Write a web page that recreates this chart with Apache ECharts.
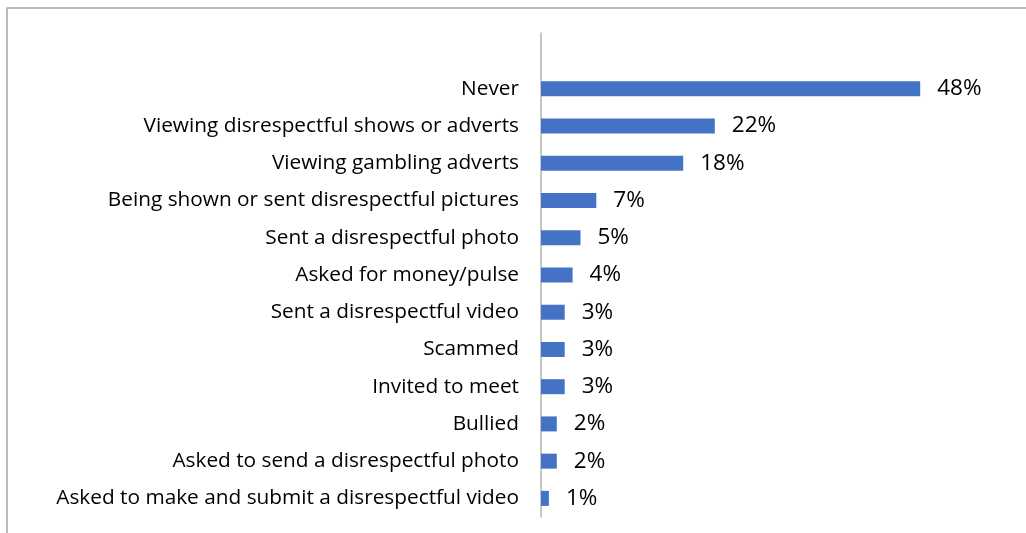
<!DOCTYPE html>
<html>
<head>
<meta charset="utf-8">
<script src="https://cdn.jsdelivr.net/npm/echarts@6/dist/echarts.min.js"></script>
<style>
  html, body { margin: 0; padding: 0; background: #fff; }
  #chart { width: 1026px; height: 533px; }
</style>
</head>
<body>
<div id="chart"></div>
<script>
// Online experiences reported (top to bottom as shown)
const categories = [
  'Never',
  'Viewing disrespectful shows or adverts',
  'Viewing gambling adverts',
  'Being shown or sent disrespectful pictures',
  'Sent a disrespectful photo',
  'Asked for money/pulse',
  'Sent a disrespectful video',
  'Scammed',
  'Invited to meet',
  'Bullied',
  'Asked to send a disrespectful photo',
  'Asked to make and submit a disrespectful video'
];
const percentages = [48, 22, 18, 7, 5, 4, 3, 3, 3, 2, 2, 1];

// Category axis runs bottom-up, so reverse for display
const axisCats = categories.slice().reverse();
const axisVals = percentages.slice().reverse();

const chart = echarts.init(document.getElementById('chart'), null, { renderer: 'canvas' });

const labelFont = 'Open Sans, Noto Sans, DejaVu Sans, sans-serif';

chart.setOption({
  animation: false,
  backgroundColor: '#ffffff',
  grid: { left: 541, right: 11, top: 33, bottom: 16, containLabel: false },
  graphic: [{
    type: 'rect',
    shape: { x: 7, y: 8, width: 1030, height: 540 },
    style: { fill: 'none', stroke: '#a6a6a6', lineWidth: 1.5 },
    silent: true
  }],
  xAxis: {
    type: 'value',
    min: 0,
    max: 60,
    show: false
  },
  yAxis: {
    type: 'category',
    data: axisCats,
    // one empty band kept above the first row
    max: 12,
    axisLine: { show: true, lineStyle: { color: '#b3b3b3', width: 1.5 } },
    axisTick: { show: false },
    axisLabel: {
      color: '#000',
      fontSize: 20.8,
      fontFamily: labelFont,
      margin: 22
    },
    splitLine: { show: false }
  },
  series: [{
    type: 'bar',
    data: axisVals,
    barWidth: 15,
    itemStyle: { color: '#4472c4' },
    label: {
      show: true,
      position: 'right',
      distance: 17,
      formatter: p => p.value + '%',
      color: '#000',
      fontSize: 22.5,
      fontFamily: labelFont
    }
  }]
});
</script>
</body>
</html>
